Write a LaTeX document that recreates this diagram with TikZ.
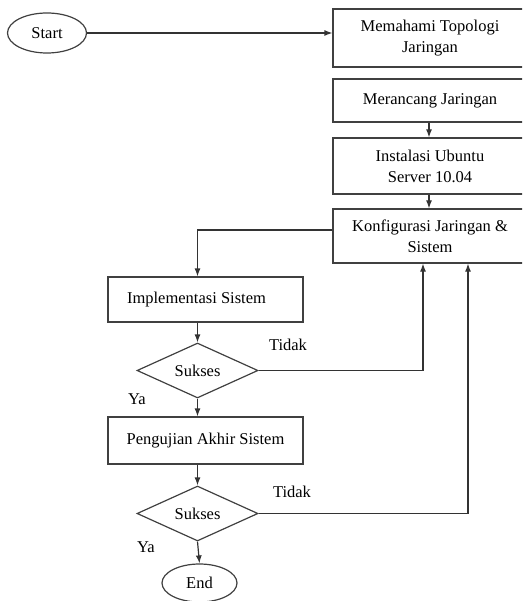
\documentclass[tikz,border=0pt]{standalone}
\usepackage{fontspec}
\setmainfont{Liberation Serif}
\usetikzlibrary{shapes.geometric,arrows.meta}
\begin{document}
\begin{tikzpicture}[x=1pt, y=-1pt, line width=1.2pt,
  font=\fontsize{16.5}{21}\selectfont,
  kotak/.style={draw=black!75, rectangle, inner sep=2pt, align=center},
  terminal/.style={draw=black!75, ellipse, inner sep=0pt},
  keputusan/.style={draw=black!75, diamond, inner sep=0pt, aspect=2.2,
    minimum width=121pt, minimum height=55pt},
  panah/.style={draw=black!80, -{Latex[length=8pt,width=6pt]}}]
  \useasboundingbox (0,0) rectangle (522,601);
  \clip (0,0) rectangle (522,601);
  % terminal awal dan akhir
  \node[terminal, minimum width=79pt, minimum height=40pt] (start) at (47,33) {Start};
  \node[terminal, minimum width=75pt, minimum height=38pt] (end) at (199.5,583) {End};
  % kolom kanan
  \node[kotak, minimum width=194pt, minimum height=58pt] (topologi) at (430,38) {Memahami Topologi\\Jaringan};
  \node[kotak, minimum width=194pt, minimum height=43pt] (rancang) at (430,100.5) {Merancang Jaringan};
  \node[kotak, minimum width=194pt, minimum height=56pt] (ubuntu) at (430,166) {Instalasi Ubuntu\\Server 10.04};
  \node[kotak, minimum width=194pt, minimum height=54pt] (konfig) at (430,236) {Konfigurasi Jaringan \&\\Sistem};
  % kolom kiri
  \node[kotak, minimum width=195pt, minimum height=45pt] (implementasi) at (205.5,299.5) {Implementasi Sistem\hspace{18pt}};
  \node[keputusan] (sukses1) at (197.5,370.5) {Sukses};
  \node[kotak, minimum width=195pt, minimum height=47pt] (pengujian) at (205.5,440.5) {Pengujian Akhir Sistem};
  \node[keputusan] (sukses2) at (197.5,513.5) {Sukses};
  % label cabang
  \node (tidak1) at (288,345) {Tidak};
  \node (ya1) at (137,399) {Ya};
  \node (tidak2) at (292,492) {Tidak};
  \node (ya2) at (146,547) {Ya};
  % alur
  \draw[panah] (start.east) -- (topologi.west |- start.east);
  \draw[panah] (rancang.south -| 429,0) -- (ubuntu.north -| 429,0);
  \draw[panah] (ubuntu.south -| 429,0) -- (konfig.north -| 429,0);
  \draw[panah] ([yshift=6pt]konfig.west) -| (implementasi.north -| sukses1.north);
  \draw[panah] (implementasi.south -| sukses1.north) -- (sukses1.north);
  \draw[panah] (sukses1.south) -- (pengujian.north -| sukses1.south);
  \draw[panah] (pengujian.south -| sukses2.north) -- (sukses2.north);
  \draw[panah] (sukses2.south) -- (end.north);
  \draw[panah] (sukses1.east) -| ([xshift=-7pt]konfig.south);
  \draw[panah] (sukses2.east) -| ([xshift=38pt]konfig.south);
\end{tikzpicture}
\end{document}
